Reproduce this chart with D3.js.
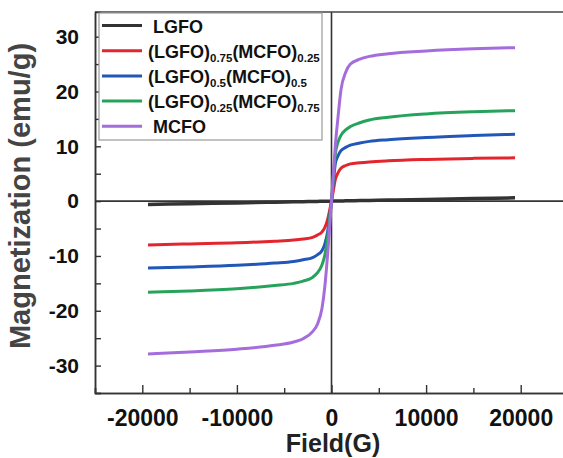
<!DOCTYPE html>
<html>
<head>
<meta charset="utf-8">
<script src="https://cdn.jsdelivr.net/npm/d3@7"></script>
<style>
	body { margin: 0; background: #fff; }
	svg { display: block; font-family: "Liberation Sans", Arial, sans-serif; font-weight: bold; }
</style>
</head>
<body>
<div id="chart"></div>
<script>
var width = 563,
	height = 458;

// field values (G) shared by all loops
var field = [-19400, -15000, -10000, -6000, -4000, -3000, -2000, -1500, -1000, -700, -400, -200, 0,
	200, 400, 700, 1000, 1500, 2000, 3000, 4000, 6000, 10000, 15000, 19400];

// magnetization (emu/g)
var lgfo   = [-0.6, -0.47, -0.32, -0.2, -0.13, -0.1, -0.07, -0.05, -0.03, -0.02, -0.01, -0.005, 0,
	0.005, 0.01, 0.02, 0.03, 0.05, 0.07, 0.1, 0.13, 0.2, 0.32, 0.47, 0.6];
var mix75  = [-8.0, -7.8, -7.6, -7.3, -7.1, -6.9, -6.6, -6.2, -5.6, -4.8, -3.3, -1.7, 0,
	2.0, 3.9, 5.2, 6.0, 6.5, 6.8, 7.0, 7.15, 7.35, 7.6, 7.8, 7.9];
var mix50  = [-12.2, -12.0, -11.7, -11.3, -11.0, -10.7, -10.3, -9.8, -9.0, -7.8, -5.5, -2.8, 0,
	3.5, 6.8, 8.3, 9.2, 9.8, 10.2, 10.6, 10.9, 11.2, 11.6, 11.95, 12.2];
var mix25  = [-16.6, -16.4, -16.0, -15.4, -15.0, -14.6, -13.9, -13.1, -11.6, -9.8, -6.5, -3.2, 0,
	4.5, 8.5, 10.8, 12.0, 13.0, 13.6, 14.3, 14.8, 15.3, 15.9, 16.3, 16.5];
var mcfo   = [-27.9, -27.5, -27.0, -26.3, -25.7, -25.1, -23.8, -22.5, -19.5, -15.5, -9.5, -4.8, 0,
	5.0, 10.0, 15.5, 20.3, 23.5, 25.0, 25.9, 26.4, 26.9, 27.4, 27.8, 28.0];

var xTicks = [-20000, -10000, 0, 10000, 20000];
var xMinor = [-25000, -15000, -5000, 5000, 15000, 25000];
var yTicks = [-30, -20, -10, 0, 10, 20, 30];
var yMinor = [-35, -25, -15, -5, 5, 15, 25];

var series = [
	{ name: [['LGFO']], values: lgfo, color: '#333333', pad: 5 },
	{ name: [['(LGFO)'], ['0.75', 1], ['(MCFO)'], ['0.25', 1]], values: mix75, color: '#e3262d', pad: 0 },
	{ name: [['(LGFO)'], ['0.5', 1], ['(MCFO)'], ['0.5', 1]], values: mix50, color: '#2157b8', pad: 0 },
	{ name: [['(LGFO)'], ['0.25', 1], ['(MCFO)'], ['0.75', 1]], values: mix25, color: '#26a35a', pad: 0 },
	{ name: [['MCFO']], values: mcfo, color: '#a56ddb', pad: 5 }
];

var svg = d3.select('#chart').append('svg')
	.attr('width', width)
	.attr('height', height);

var x = d3.scaleLinear().domain([-25000, 25000]).range([95, 568]);
var y = d3.scaleLinear().domain([-35, 34.5]).range([393, 12]);

// plain hyphen, no thousands separator
var plain = function(d) { return String(d); };

// zero lines
svg.append('line')
	.attr('x1', x.range()[0]).attr('x2', width)
	.attr('y1', y(0)).attr('y2', y(0))
	.style('stroke', '#333').style('stroke-width', 1.6);
svg.append('line')
	.attr('x1', x(0)).attr('x2', x(0))
	.attr('y1', y.range()[0]).attr('y2', y.range()[1])
	.style('stroke', '#333').style('stroke-width', 1.6);

// curves
var line = d3.line()
	.x(function(d, i) { return x(field[i]); })
	.y(function(d) { return y(d); })
	.curve(d3.curveMonotoneX);

svg.append('g')
	.selectAll('path')
	.data(series)
	.enter()
	.append('path')
	.attr('d', function(d) { return line(d.values); })
	.style('fill', 'none')
	.style('stroke', function(d) { return d.color; })
	.style('stroke-width', function(d, i) { return i === 0 ? 3.5 : 3; })
	.style('stroke-linejoin', 'round');

// frame
svg.append('line')
	.attr('x1', x.range()[0]).attr('x2', width)
	.attr('y1', y.range()[1]).attr('y2', y.range()[1])
	.style('stroke', '#444').style('stroke-width', 1.5);

// x axis, ticks pointing inward
var xAxis = svg.append('g')
	.attr('transform', 'translate(0,' + y.range()[0] + ')')
	.call(d3.axisBottom(x).tickValues(xTicks).tickFormat(plain).tickSizeInner(-8).tickSizeOuter(0).tickPadding(17));
xAxis.append('g')
	.call(d3.axisBottom(x).tickValues(xMinor).tickSize(-5).tickFormat(''));
xAxis.selectAll('.domain').style('stroke', '#333').style('stroke-width', 1.5);
xAxis.selectAll('.tick line').style('stroke', '#333').style('stroke-width', 1.4);
xAxis.selectAll('.tick text')
	.style('font-size', '23px')
	.style('font-family', '"Liberation Sans", Arial, sans-serif')
	.style('font-weight', 'bold')
	.style('fill', '#111');

// y axis
var yAxis = svg.append('g')
	.attr('transform', 'translate(' + x.range()[0] + ',0)')
	.call(d3.axisLeft(y).tickValues(yTicks).tickFormat(plain).tickSizeInner(-6).tickSizeOuter(0).tickPadding(16));
yAxis.append('g')
	.call(d3.axisLeft(y).tickValues(yMinor).tickSize(-6).tickFormat(''));
yAxis.selectAll('.domain').style('stroke', '#333').style('stroke-width', 1.5);
yAxis.selectAll('.tick line').style('stroke', '#333').style('stroke-width', 1.4);
yAxis.selectAll('.tick text')
	.style('font-size', '21px')
	.style('font-family', '"Liberation Sans", Arial, sans-serif')
	.style('font-weight', 'bold')
	.style('fill', '#111');

// axis titles
svg.append('text')
	.attr('x', 333).attr('y', 452)
	.attr('text-anchor', 'middle')
	.style('font-size', '25px')
	.style('fill', '#222')
	.text('Field(G)');

svg.append('text')
	.attr('transform', 'translate(30,' + 196 + ') rotate(-90)')
	.attr('text-anchor', 'middle')
	.style('font-size', '29px')
	.style('fill', '#444')
	.text('Magnetization (emu/g)');

// legend
var legend = svg.append('g');
legend.append('rect')
	.attr('x', 99).attr('y', 13)
	.attr('width', 223).attr('height', 127)
	.style('fill', '#fff')
	.style('stroke', '#999')
	.style('stroke-width', 1.2);

var rows = legend.selectAll('g.row')
	.data(series)
	.enter()
	.append('g')
	.classed('row', true)
	.attr('transform', function(d, i) { return 'translate(0,' + (25.5 + i * 25.2) + ')'; });

rows.append('line')
	.attr('x1', 102).attr('x2', 142)
	.style('stroke', function(d) { return d.color; })
	.style('stroke-width', 3);

var labels = rows.append('text')
	.attr('x', function(d) { return 148 + d.pad; })
	.attr('y', 7)
	.style('font-size', '18px')
	.style('fill', '#111');

labels.each(function(d) {
	var t = d3.select(this);
	d.name.forEach(function(part, k) {
		var prevSub = k > 0 && d.name[k - 1][1];
		var span = t.append('tspan').text(part[0]);
		if (part[1]) {
			span.attr('dy', 4).style('font-size', '11.5px');
		} else if (prevSub) {
			span.attr('dy', -4);
		}
	});
});
</script>
</body>
</html>
